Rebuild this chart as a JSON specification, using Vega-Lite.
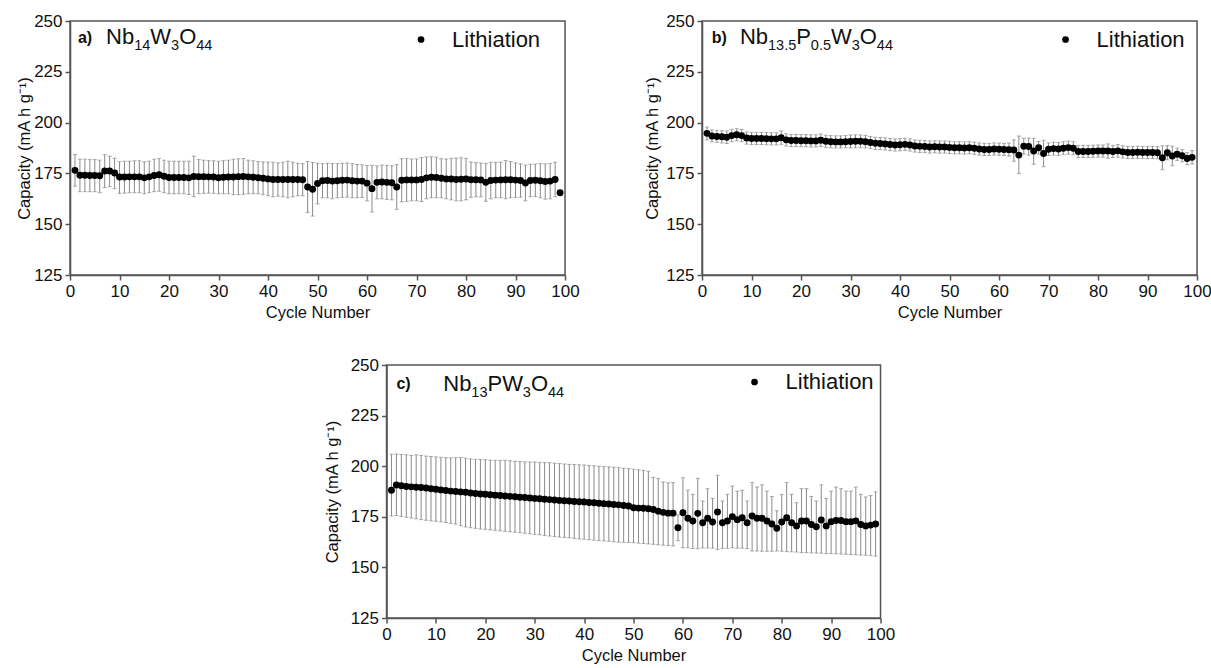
{
  "$schema": "https://vega.github.io/schema/vega-lite/v6.json",
  "background": "white",
  "padding": {"top": 11, "left": 15, "right": 0, "bottom": 0},
  "config": {
    "font": "Liberation Sans",
    "view": {"stroke": "#555555", "strokeWidth": 1.5},
    "axis": {"grid": false, "labelFont": "Liberation Sans", "labelFontSize": 17, "labelColor": "#111111", "titleFont": "Liberation Sans", "titleFontSize": 16.5, "titleFontWeight": "normal", "titleColor": "#111111", "domainColor": "#555555", "domainWidth": 1.5, "tickColor": "#555555", "tickWidth": 1.5, "labelPadding": 3, "labelFlush": false, "labelOverlap": false},
    "legend": {"labelFont": "Liberation Sans", "labelFontSize": 22, "labelColor": "#111111", "symbolType": "circle", "symbolSize": 45, "symbolStrokeWidth": 0, "labelOffset": 20, "padding": 0},
    "text": {"font": "Liberation Sans", "color": "#111111", "align": "left", "baseline": "alphabetic"}
  },
  "datasets": {
    "a": [
      {"cycle":1,"capacity":176.5,"low":168.7,"high":184.3},{"cycle":2,"capacity":174.1,"low":166,"high":182},{"cycle":3,"capacity":174.1,"low":166,"high":182},{"cycle":4,"capacity":174.0,"low":166,"high":181.8},{"cycle":5,"capacity":174.0,"low":166,"high":181.8},{"cycle":6,"capacity":173.8,"low":165.5,"high":181.5},{"cycle":7,"capacity":176.2,"low":168,"high":184.2},{"cycle":8,"capacity":176.2,"low":168.5,"high":183.5},{"cycle":9,"capacity":175.2,"low":167.5,"high":182.5},{"cycle":10,"capacity":173.2,"low":165.2,"high":180.8},
      {"cycle":11,"capacity":173.2,"low":165.3,"high":181},{"cycle":12,"capacity":173.3,"low":165.5,"high":181},{"cycle":13,"capacity":173.3,"low":165.5,"high":181.2},{"cycle":14,"capacity":173.3,"low":165.5,"high":181.2},{"cycle":15,"capacity":172.8,"low":165,"high":180.7},{"cycle":16,"capacity":173.3,"low":165.5,"high":181},{"cycle":17,"capacity":174.0,"low":166,"high":182},{"cycle":18,"capacity":174.3,"low":166.2,"high":182.3},{"cycle":19,"capacity":173.6,"low":165.5,"high":181.5},{"cycle":20,"capacity":173.0,"low":165,"high":181},
      {"cycle":21,"capacity":173.0,"low":165,"high":181},{"cycle":22,"capacity":173.0,"low":165,"high":181},{"cycle":23,"capacity":173.0,"low":165,"high":181},{"cycle":24,"capacity":172.8,"low":164.6,"high":181},{"cycle":25,"capacity":173.5,"low":163.5,"high":183.5},{"cycle":26,"capacity":173.4,"low":165,"high":181.8},{"cycle":27,"capacity":173.4,"low":165.2,"high":181.5},{"cycle":28,"capacity":173.3,"low":165.3,"high":181.3},{"cycle":29,"capacity":173.2,"low":165.2,"high":181.2},{"cycle":30,"capacity":172.9,"low":165,"high":181},
      {"cycle":31,"capacity":173.1,"low":165,"high":181.3},{"cycle":32,"capacity":173.2,"low":165,"high":181.5},{"cycle":33,"capacity":173.2,"low":164.5,"high":182},{"cycle":34,"capacity":173.4,"low":164.5,"high":182.2},{"cycle":35,"capacity":173.5,"low":164.7,"high":182.3},{"cycle":36,"capacity":173.3,"low":165,"high":181.5},{"cycle":37,"capacity":173.1,"low":165,"high":181.2},{"cycle":38,"capacity":172.9,"low":165,"high":180.8},{"cycle":39,"capacity":172.6,"low":164.5,"high":180.7},{"cycle":40,"capacity":172.3,"low":164,"high":180.6},
      {"cycle":41,"capacity":172.0,"low":163.5,"high":180.5},{"cycle":42,"capacity":172.0,"low":163.8,"high":180.2},{"cycle":43,"capacity":172.0,"low":163.5,"high":180.5},{"cycle":44,"capacity":172.0,"low":163,"high":181},{"cycle":45,"capacity":172.0,"low":163.5,"high":180.5},{"cycle":46,"capacity":172.0,"low":164,"high":180},{"cycle":47,"capacity":171.9,"low":164,"high":179.8},{"cycle":48,"capacity":168.3,"low":155.7,"high":180.8},{"cycle":49,"capacity":167.2,"low":154,"high":180.4},{"cycle":50,"capacity":170.0,"low":160,"high":180},
      {"cycle":51,"capacity":171.4,"low":163,"high":179.8},{"cycle":52,"capacity":171.5,"low":163,"high":180},{"cycle":53,"capacity":171.2,"low":162.5,"high":179.9},{"cycle":54,"capacity":171.4,"low":163,"high":179.8},{"cycle":55,"capacity":171.6,"low":163.2,"high":180},{"cycle":56,"capacity":171.7,"low":163.3,"high":180.1},{"cycle":57,"capacity":171.4,"low":163,"high":179.8},{"cycle":58,"capacity":171.2,"low":163,"high":179.4},{"cycle":59,"capacity":171.2,"low":163.2,"high":179.2},{"cycle":60,"capacity":170.2,"low":161.5,"high":178.9},
      {"cycle":61,"capacity":167.5,"low":156,"high":179},{"cycle":62,"capacity":170.6,"low":162.5,"high":178.7},{"cycle":63,"capacity":170.8,"low":162.5,"high":179.1},{"cycle":64,"capacity":170.6,"low":162.2,"high":179},{"cycle":65,"capacity":170.4,"low":162,"high":178.8},{"cycle":66,"capacity":168.3,"low":157.3,"high":179.3},{"cycle":67,"capacity":171.6,"low":161,"high":182.2},{"cycle":68,"capacity":171.8,"low":161.2,"high":182.4},{"cycle":69,"capacity":171.8,"low":161.5,"high":182.1},{"cycle":70,"capacity":171.8,"low":161.5,"high":182.1},
      {"cycle":71,"capacity":172.0,"low":161.2,"high":182.8},{"cycle":72,"capacity":172.8,"low":162.5,"high":183.1},{"cycle":73,"capacity":173.1,"low":163,"high":183.2},{"cycle":74,"capacity":173.0,"low":163,"high":183},{"cycle":75,"capacity":172.6,"low":163,"high":182.2},{"cycle":76,"capacity":172.3,"low":162.5,"high":182.1},{"cycle":77,"capacity":172.2,"low":162,"high":182.4},{"cycle":78,"capacity":172.0,"low":161.5,"high":182.5},{"cycle":79,"capacity":172.1,"low":161.5,"high":182.7},{"cycle":80,"capacity":172.2,"low":162,"high":182.4},
      {"cycle":81,"capacity":171.9,"low":163.2,"high":180.6},{"cycle":82,"capacity":171.9,"low":163.5,"high":180.3},{"cycle":83,"capacity":171.8,"low":163.5,"high":180.1},{"cycle":84,"capacity":170.6,"low":161.3,"high":179.9},{"cycle":85,"capacity":171.5,"low":162.5,"high":180.5},{"cycle":86,"capacity":171.7,"low":163,"high":180.4},{"cycle":87,"capacity":171.8,"low":163,"high":180.6},{"cycle":88,"capacity":171.9,"low":162.5,"high":181.3},{"cycle":89,"capacity":171.9,"low":163,"high":180.8},{"cycle":90,"capacity":171.7,"low":163.2,"high":180.2},
      {"cycle":91,"capacity":171.5,"low":163.3,"high":179.7},{"cycle":92,"capacity":170.3,"low":161.5,"high":179.1},{"cycle":93,"capacity":171.5,"low":163.5,"high":179.5},{"cycle":94,"capacity":171.6,"low":163.6,"high":179.6},{"cycle":95,"capacity":171.4,"low":163,"high":179.8},{"cycle":96,"capacity":171.0,"low":162.3,"high":179.7},{"cycle":97,"capacity":171.2,"low":162.5,"high":179.9},{"cycle":98,"capacity":172.0,"low":163.5,"high":180.5},{"cycle":99,"capacity":165.5,"low":164.8,"high":166.2}
    ],
    "b": [
      {"cycle":1,"capacity":194.7,"low":191.5,"high":197.8},{"cycle":2,"capacity":193.4,"low":190.5,"high":196.4},{"cycle":3,"capacity":193.2,"low":190.3,"high":196.2},{"cycle":4,"capacity":193.0,"low":190,"high":196},{"cycle":5,"capacity":192.8,"low":189.7,"high":195.9},{"cycle":6,"capacity":193.6,"low":190.6,"high":196.7},{"cycle":7,"capacity":194.0,"low":191,"high":197},{"cycle":8,"capacity":193.6,"low":190.6,"high":196.6},{"cycle":9,"capacity":192.4,"low":189.4,"high":195.4},{"cycle":10,"capacity":192.2,"low":189.2,"high":195.2},
      {"cycle":11,"capacity":192.2,"low":189.2,"high":195.2},{"cycle":12,"capacity":192.2,"low":189.2,"high":195.2},{"cycle":13,"capacity":192.1,"low":189.1,"high":195.1},{"cycle":14,"capacity":192.0,"low":189,"high":195},{"cycle":15,"capacity":192.0,"low":189,"high":195},{"cycle":16,"capacity":192.6,"low":189.3,"high":195.9},{"cycle":17,"capacity":191.5,"low":188.5,"high":194.5},{"cycle":18,"capacity":191.2,"low":188.2,"high":194.2},{"cycle":19,"capacity":191.2,"low":188.2,"high":194.2},{"cycle":20,"capacity":191.1,"low":188.1,"high":194.1},
      {"cycle":21,"capacity":191.1,"low":188.1,"high":194.1},{"cycle":22,"capacity":191.0,"low":188,"high":194},{"cycle":23,"capacity":191.0,"low":188,"high":194},{"cycle":24,"capacity":191.3,"low":188.2,"high":194.4},{"cycle":25,"capacity":190.8,"low":187.8,"high":193.8},{"cycle":26,"capacity":190.6,"low":187.6,"high":193.6},{"cycle":27,"capacity":190.5,"low":187.5,"high":193.5},{"cycle":28,"capacity":190.5,"low":187.5,"high":193.5},{"cycle":29,"capacity":190.6,"low":187.6,"high":193.6},{"cycle":30,"capacity":190.7,"low":187.5,"high":193.9},
      {"cycle":31,"capacity":190.8,"low":187.6,"high":194},{"cycle":32,"capacity":190.8,"low":187.7,"high":193.9},{"cycle":33,"capacity":190.6,"low":187.5,"high":193.7},{"cycle":34,"capacity":190.2,"low":187.2,"high":193.2},{"cycle":35,"capacity":189.8,"low":186.8,"high":192.8},{"cycle":36,"capacity":189.7,"low":186.7,"high":192.7},{"cycle":37,"capacity":189.5,"low":186.5,"high":192.5},{"cycle":38,"capacity":189.2,"low":186.2,"high":192.2},{"cycle":39,"capacity":189.0,"low":186,"high":192},{"cycle":40,"capacity":189.1,"low":186.1,"high":192.1},
      {"cycle":41,"capacity":189.3,"low":186.3,"high":192.3},{"cycle":42,"capacity":189.0,"low":186,"high":192},{"cycle":43,"capacity":188.5,"low":185.5,"high":191.5},{"cycle":44,"capacity":188.3,"low":185.3,"high":191.3},{"cycle":45,"capacity":188.2,"low":185.2,"high":191.2},{"cycle":46,"capacity":188.0,"low":185,"high":191},{"cycle":47,"capacity":188.1,"low":185.1,"high":191.1},{"cycle":48,"capacity":188.0,"low":185,"high":191},{"cycle":49,"capacity":188.0,"low":185,"high":191},{"cycle":50,"capacity":187.8,"low":184.8,"high":190.8},
      {"cycle":51,"capacity":187.6,"low":184.6,"high":190.6},{"cycle":52,"capacity":187.6,"low":184.6,"high":190.6},{"cycle":53,"capacity":187.5,"low":184.5,"high":190.5},{"cycle":54,"capacity":187.6,"low":184.6,"high":190.6},{"cycle":55,"capacity":187.4,"low":184.4,"high":190.4},{"cycle":56,"capacity":187.0,"low":184,"high":190},{"cycle":57,"capacity":186.8,"low":183.8,"high":189.8},{"cycle":58,"capacity":186.8,"low":183.8,"high":189.8},{"cycle":59,"capacity":187.0,"low":184,"high":190},{"cycle":60,"capacity":186.9,"low":183.9,"high":189.9},
      {"cycle":61,"capacity":186.8,"low":183.8,"high":189.8},{"cycle":62,"capacity":186.7,"low":183.5,"high":189.9},{"cycle":63,"capacity":186.5,"low":181,"high":191.5},{"cycle":64,"capacity":184.0,"low":174.9,"high":193.4},{"cycle":65,"capacity":188.4,"low":184.5,"high":192.3},{"cycle":66,"capacity":188.2,"low":184,"high":192.4},{"cycle":67,"capacity":186.0,"low":179.5,"high":192.3},{"cycle":68,"capacity":187.6,"low":184.5,"high":190.7},{"cycle":69,"capacity":184.8,"low":178.3,"high":191.3},{"cycle":70,"capacity":186.9,"low":183.8,"high":190},
      {"cycle":71,"capacity":187.2,"low":184,"high":190.4},{"cycle":72,"capacity":187.0,"low":183.8,"high":190.2},{"cycle":73,"capacity":187.4,"low":184.2,"high":190.6},{"cycle":74,"capacity":187.7,"low":184.5,"high":190.9},{"cycle":75,"capacity":187.4,"low":184.2,"high":190.6},{"cycle":76,"capacity":185.8,"low":182.8,"high":188.8},{"cycle":77,"capacity":185.8,"low":182.8,"high":188.8},{"cycle":78,"capacity":185.8,"low":182.8,"high":188.8},{"cycle":79,"capacity":185.9,"low":182.9,"high":188.9},{"cycle":80,"capacity":186.0,"low":183,"high":189},
      {"cycle":81,"capacity":186.0,"low":183,"high":189},{"cycle":82,"capacity":186.0,"low":182.5,"high":189.5},{"cycle":83,"capacity":185.8,"low":182.8,"high":188.8},{"cycle":84,"capacity":186.1,"low":183,"high":189.2},{"cycle":85,"capacity":185.6,"low":182.6,"high":188.6},{"cycle":86,"capacity":185.3,"low":182.3,"high":188.3},{"cycle":87,"capacity":185.3,"low":182.3,"high":188.3},{"cycle":88,"capacity":185.4,"low":182.4,"high":188.4},{"cycle":89,"capacity":185.3,"low":182.3,"high":188.3},{"cycle":90,"capacity":185.3,"low":182.3,"high":188.3},
      {"cycle":91,"capacity":185.3,"low":182.3,"high":188.3},{"cycle":92,"capacity":185.2,"low":182.2,"high":188.2},{"cycle":93,"capacity":182.7,"low":176.8,"high":188.6},{"cycle":94,"capacity":185.2,"low":181.7,"high":188.7},{"cycle":95,"capacity":183.6,"low":178.8,"high":188.4},{"cycle":96,"capacity":184.4,"low":181.4,"high":187.4},{"cycle":97,"capacity":183.7,"low":180.7,"high":186.7},{"cycle":98,"capacity":182.3,"low":179.3,"high":185.3},{"cycle":99,"capacity":182.9,"low":179.6,"high":186.2}
    ],
    "c": [
      {"cycle":1,"capacity":188.1,"low":175.4,"high":205.9},{"cycle":2,"capacity":190.7,"low":175.6,"high":206},{"cycle":3,"capacity":190.3,"low":175.2,"high":205.8},{"cycle":4,"capacity":190.0,"low":174.8,"high":205.6},{"cycle":5,"capacity":189.8,"low":174.4,"high":205.3},{"cycle":6,"capacity":189.6,"low":174,"high":205.6},{"cycle":7,"capacity":189.5,"low":173.6,"high":205.3},{"cycle":8,"capacity":189.2,"low":173.3,"high":205},{"cycle":9,"capacity":188.9,"low":173,"high":204.8},{"cycle":10,"capacity":188.6,"low":172.8,"high":204.6},
      {"cycle":11,"capacity":188.3,"low":172.5,"high":204.4},{"cycle":12,"capacity":188.0,"low":172.2,"high":204.2},{"cycle":13,"capacity":187.7,"low":171.8,"high":204.1},{"cycle":14,"capacity":187.5,"low":171.4,"high":204.2},{"cycle":15,"capacity":187.3,"low":170.6,"high":204.3},{"cycle":16,"capacity":187.1,"low":170,"high":203.9},{"cycle":17,"capacity":186.8,"low":169.6,"high":203.6},{"cycle":18,"capacity":186.5,"low":169.3,"high":203.4},{"cycle":19,"capacity":186.3,"low":169,"high":203.3},{"cycle":20,"capacity":186.1,"low":168.8,"high":203.2},
      {"cycle":21,"capacity":185.9,"low":168.5,"high":203},{"cycle":22,"capacity":185.7,"low":168.3,"high":202.9},{"cycle":23,"capacity":185.5,"low":168.1,"high":202.8},{"cycle":24,"capacity":185.3,"low":167.8,"high":202.9},{"cycle":25,"capacity":185.1,"low":167.6,"high":202.7},{"cycle":26,"capacity":184.9,"low":167.4,"high":202.4},{"cycle":27,"capacity":184.7,"low":167.2,"high":202.3},{"cycle":28,"capacity":184.5,"low":166.9,"high":202.1},{"cycle":29,"capacity":184.3,"low":166.6,"high":202},{"cycle":30,"capacity":184.1,"low":166.3,"high":202.1},
      {"cycle":31,"capacity":183.9,"low":166.1,"high":201.9},{"cycle":32,"capacity":183.7,"low":165.8,"high":201.8},{"cycle":33,"capacity":183.5,"low":165.5,"high":201.7},{"cycle":34,"capacity":183.3,"low":165.3,"high":201.5},{"cycle":35,"capacity":183.1,"low":165,"high":201.3},{"cycle":36,"capacity":182.9,"low":164.8,"high":201.1},{"cycle":37,"capacity":182.8,"low":164.6,"high":200.9},{"cycle":38,"capacity":182.6,"low":164.4,"high":200.8},{"cycle":39,"capacity":182.4,"low":164.1,"high":200.7},{"cycle":40,"capacity":182.3,"low":163.9,"high":200.6},
      {"cycle":41,"capacity":182.1,"low":163.7,"high":200.4},{"cycle":42,"capacity":181.9,"low":163.5,"high":200.2},{"cycle":43,"capacity":181.7,"low":163.3,"high":200},{"cycle":44,"capacity":181.5,"low":163.1,"high":199.8},{"cycle":45,"capacity":181.3,"low":162.9,"high":199.7},{"cycle":46,"capacity":181.1,"low":162.7,"high":199.5},{"cycle":47,"capacity":180.9,"low":162.5,"high":199.3},{"cycle":48,"capacity":180.6,"low":162.4,"high":199},{"cycle":49,"capacity":180.3,"low":162.3,"high":198.8},{"cycle":50,"capacity":179.5,"low":162.2,"high":198.5},
      {"cycle":51,"capacity":179.3,"low":162,"high":198.2},{"cycle":52,"capacity":179.2,"low":161.8,"high":197.9},{"cycle":53,"capacity":179.0,"low":161.6,"high":197.5},{"cycle":54,"capacity":178.6,"low":161.4,"high":194.5},{"cycle":55,"capacity":177.8,"low":161.2,"high":194},{"cycle":56,"capacity":177.2,"low":161,"high":192.2},{"cycle":57,"capacity":176.8,"low":160.8,"high":191.8},{"cycle":58,"capacity":176.8,"low":160.6,"high":191.9},{"cycle":59,"capacity":169.6,"low":163.2,"high":176},{"cycle":60,"capacity":177.0,"low":159.7,"high":194.3},
      {"cycle":61,"capacity":174.3,"low":159.7,"high":188.2},{"cycle":62,"capacity":172.9,"low":159.3,"high":186.1},{"cycle":63,"capacity":176.7,"low":159.2,"high":194},{"cycle":64,"capacity":172.1,"low":159.6,"high":182.8},{"cycle":65,"capacity":174.3,"low":159.6,"high":188.9},{"cycle":66,"capacity":172.4,"low":159.5,"high":184.1},{"cycle":67,"capacity":177.4,"low":158.9,"high":195.5},{"cycle":68,"capacity":172.1,"low":159.4,"high":182.8},{"cycle":69,"capacity":172.9,"low":159.4,"high":186.1},{"cycle":70,"capacity":175.1,"low":159.7,"high":190.2},
      {"cycle":71,"capacity":173.6,"low":159.5,"high":187.7},{"cycle":72,"capacity":174.5,"low":159.5,"high":188.1},{"cycle":73,"capacity":172.1,"low":159.3,"high":182.8},{"cycle":74,"capacity":175.4,"low":158.1,"high":191.9},{"cycle":75,"capacity":174.3,"low":158.1,"high":189.7},{"cycle":76,"capacity":174.3,"low":158,"high":190.8},{"cycle":77,"capacity":172.9,"low":158,"high":187.7},{"cycle":78,"capacity":171.4,"low":158,"high":185},{"cycle":79,"capacity":169.3,"low":158.1,"high":178},{"cycle":80,"capacity":172.4,"low":158,"high":186.1},
      {"cycle":81,"capacity":174.5,"low":157.8,"high":191.9},{"cycle":82,"capacity":172.1,"low":157.7,"high":186.1},{"cycle":83,"capacity":170.5,"low":157.6,"high":182},{"cycle":84,"capacity":172.9,"low":157.3,"high":188.9},{"cycle":85,"capacity":172.9,"low":157.3,"high":188.9},{"cycle":86,"capacity":171.2,"low":157.2,"high":185},{"cycle":87,"capacity":170.1,"low":157.1,"high":182.8},{"cycle":88,"capacity":173.4,"low":157,"high":190.8},{"cycle":89,"capacity":170.5,"low":156.8,"high":184.1},{"cycle":90,"capacity":172.6,"low":156.8,"high":187.7},
      {"cycle":91,"capacity":173.2,"low":156.7,"high":189.7},{"cycle":92,"capacity":173.2,"low":156.6,"high":188.9},{"cycle":93,"capacity":172.6,"low":156.5,"high":187.7},{"cycle":94,"capacity":172.6,"low":156.4,"high":187.7},{"cycle":95,"capacity":173.0,"low":156.3,"high":189.7},{"cycle":96,"capacity":171.2,"low":156.1,"high":186.1},{"cycle":97,"capacity":170.5,"low":156,"high":184.8},{"cycle":98,"capacity":170.9,"low":155.8,"high":185.5},{"cycle":99,"capacity":171.4,"low":155.6,"high":187.3}
    ]
  },
  "resolve": {"scale": {"color": "independent"}, "legend": {"color": "independent"}},
  "spacing": 33,
  "center": true,
  "vconcat": [
    {
      "spacing": 63,
      "resolve": {"scale": {"color": "independent"}, "legend": {"color": "independent"}},
      "hconcat": [
        {
          "width": 495, "height": 254,
          "data": {"name": "a"},
          "layer": [
            {"mark": {"type": "errorbar", "color": "#8a8a8a", "thickness": 1, "ticks": {"size": 4}},
             "encoding": {
               "x": {"field": "cycle", "type": "quantitative", "scale": {"domain": [0, 100], "nice": false}, "axis": {"title": "Cycle Number", "titlePadding": 5, "values": [0,5,10,15,20,25,30,35,40,45,50,55,60,65,70,75,80,85,90,95,100], "labelExpr": "datum.value % 10 === 0 ? datum.label : ''", "tickSize": {"condition": {"test": "datum.value % 10 === 0", "value": 5}, "value": 3}}},
               "y": {"field": "low", "type": "quantitative", "scale": {"domain": [125, 250], "nice": false}, "axis": {"title": "Capacity (mA h g⁻¹)", "titlePadding": 1, "values": [125,137.5,150,162.5,175,187.5,200,212.5,225,237.5,250], "labelExpr": "datum.value % 25 === 0 ? datum.label : ''", "tickSize": {"condition": {"test": "datum.value % 25 === 0", "value": 5}, "value": 3}}},
               "y2": {"field": "high"}
             }},
            {"mark": {"type": "point", "filled": true, "size": 48, "opacity": 1},
             "encoding": {
               "x": {"field": "cycle", "type": "quantitative", "scale": {"domain": [0, 100], "nice": false}, "title": "Cycle Number"},
               "y": {"field": "capacity", "type": "quantitative", "scale": {"domain": [125, 250], "nice": false}, "title": "Capacity (mA h g⁻¹)"},
               "color": {"datum": "Lithiation", "scale": {"range": ["#000000"]}, "legend": {"title": null, "orient": "none", "legendX": 340, "legendY": 7.5}}
             }},
            {"data": {"values": [{}]}, "mark": {"type": "text", "text": "a)", "fontWeight": "bold", "fontSize": 16}, "encoding": {"x": {"datum": 1.6}, "y": {"datum": 239}}},
            {"data": {"values": [{}]}, "mark": {"type": "text", "text": "Nb", "fontSize": 22}, "encoding": {"x": {"datum": 7.27}, "y": {"datum": 238.5}}},
            {"data": {"values": [{}]}, "mark": {"type": "text", "text": "14", "fontSize": 14.5}, "encoding": {"x": {"datum": 12.95}, "y": {"datum": 235.5}}},
            {"data": {"values": [{}]}, "mark": {"type": "text", "text": "W", "fontSize": 22}, "encoding": {"x": {"datum": 16.2}, "y": {"datum": 238.5}}},
            {"data": {"values": [{}]}, "mark": {"type": "text", "text": "3", "fontSize": 14.5}, "encoding": {"x": {"datum": 20.4}, "y": {"datum": 235.5}}},
            {"data": {"values": [{}]}, "mark": {"type": "text", "text": "O", "fontSize": 22}, "encoding": {"x": {"datum": 22.04}, "y": {"datum": 238.5}}},
            {"data": {"values": [{}]}, "mark": {"type": "text", "text": "44", "fontSize": 14.5}, "encoding": {"x": {"datum": 25.5}, "y": {"datum": 235.5}}}
          ]
        },
        {
          "width": 495, "height": 254,
          "data": {"name": "b"},
          "layer": [
            {"mark": {"type": "errorbar", "color": "#8a8a8a", "thickness": 1, "ticks": {"size": 4}},
             "encoding": {
               "x": {"field": "cycle", "type": "quantitative", "scale": {"domain": [0, 100], "nice": false}, "axis": {"title": "Cycle Number", "titlePadding": 5, "values": [0,5,10,15,20,25,30,35,40,45,50,55,60,65,70,75,80,85,90,95,100], "labelExpr": "datum.value % 10 === 0 ? datum.label : ''", "tickSize": {"condition": {"test": "datum.value % 10 === 0", "value": 5}, "value": 3}}},
               "y": {"field": "low", "type": "quantitative", "scale": {"domain": [125, 250], "nice": false}, "axis": {"title": "Capacity (mA h g⁻¹)", "titlePadding": 5, "values": [125,137.5,150,162.5,175,187.5,200,212.5,225,237.5,250], "labelExpr": "datum.value % 25 === 0 ? datum.label : ''", "tickSize": {"condition": {"test": "datum.value % 25 === 0", "value": 5}, "value": 3}}},
               "y2": {"field": "high"}
             }},
            {"mark": {"type": "point", "filled": true, "size": 48, "opacity": 1},
             "encoding": {
               "x": {"field": "cycle", "type": "quantitative", "scale": {"domain": [0, 100], "nice": false}, "title": "Cycle Number"},
               "y": {"field": "capacity", "type": "quantitative", "scale": {"domain": [125, 250], "nice": false}, "title": "Capacity (mA h g⁻¹)"},
               "color": {"datum": "Lithiation", "scale": {"range": ["#000000"]}, "legend": {"title": null, "orient": "none", "legendX": 352.5, "legendY": 7.5}}
             }},
            {"data": {"values": [{}]}, "mark": {"type": "text", "text": "b)", "fontWeight": "bold", "fontSize": 16}, "encoding": {"x": {"datum": 1.96}, "y": {"datum": 239}}},
            {"data": {"values": [{}]}, "mark": {"type": "text", "text": "Nb", "fontSize": 22}, "encoding": {"x": {"datum": 7.66}, "y": {"datum": 238.5}}},
            {"data": {"values": [{}]}, "mark": {"type": "text", "text": "13.5", "fontSize": 14.5}, "encoding": {"x": {"datum": 13.33}, "y": {"datum": 235.5}}},
            {"data": {"values": [{}]}, "mark": {"type": "text", "text": "P", "fontSize": 22}, "encoding": {"x": {"datum": 19.01}, "y": {"datum": 238.5}}},
            {"data": {"values": [{}]}, "mark": {"type": "text", "text": "0.5", "fontSize": 14.5}, "encoding": {"x": {"datum": 21.98}, "y": {"datum": 235.5}}},
            {"data": {"values": [{}]}, "mark": {"type": "text", "text": "W", "fontSize": 22}, "encoding": {"x": {"datum": 26.05}, "y": {"datum": 238.5}}},
            {"data": {"values": [{}]}, "mark": {"type": "text", "text": "3", "fontSize": 14.5}, "encoding": {"x": {"datum": 30.24}, "y": {"datum": 235.5}}},
            {"data": {"values": [{}]}, "mark": {"type": "text", "text": "O", "fontSize": 22}, "encoding": {"x": {"datum": 31.88}, "y": {"datum": 238.5}}},
            {"data": {"values": [{}]}, "mark": {"type": "text", "text": "44", "fontSize": 14.5}, "encoding": {"x": {"datum": 35.32}, "y": {"datum": 235.5}}}
          ]
        }
      ]
    },
    {
      "width": 494, "height": 253,
      "data": {"name": "c"},
      "layer": [
        {"mark": {"type": "errorbar", "color": "#8a8a8a", "thickness": 1, "ticks": {"size": 4}},
         "encoding": {
           "x": {"field": "cycle", "type": "quantitative", "scale": {"domain": [0, 100], "nice": false}, "axis": {"title": "Cycle Number", "titlePadding": 5, "values": [0,5,10,15,20,25,30,35,40,45,50,55,60,65,70,75,80,85,90,95,100], "labelExpr": "datum.value % 10 === 0 ? datum.label : ''", "tickSize": {"condition": {"test": "datum.value % 10 === 0", "value": 5}, "value": 3}}},
           "y": {"field": "low", "type": "quantitative", "scale": {"domain": [125, 250], "nice": false}, "axis": {"title": "Capacity (mA h g⁻¹)", "titlePadding": 10, "values": [125,137.5,150,162.5,175,187.5,200,212.5,225,237.5,250], "labelExpr": "datum.value % 25 === 0 ? datum.label : ''", "tickSize": {"condition": {"test": "datum.value % 25 === 0", "value": 5}, "value": 3}}},
           "y2": {"field": "high"}
         }},
        {"mark": {"type": "point", "filled": true, "size": 48, "opacity": 1},
         "encoding": {
           "x": {"field": "cycle", "type": "quantitative", "scale": {"domain": [0, 100], "nice": false}, "title": "Cycle Number"},
           "y": {"field": "capacity", "type": "quantitative", "scale": {"domain": [125, 250], "nice": false}, "title": "Capacity (mA h g⁻¹)"},
           "color": {"datum": "Lithiation", "scale": {"range": ["#000000"]}, "legend": {"title": null, "orient": "none", "legendX": 357, "legendY": 6}}
         }},
        {"data": {"values": [{}]}, "mark": {"type": "text", "text": "c)", "fontWeight": "bold", "fontSize": 16}, "encoding": {"x": {"datum": 2}, "y": {"datum": 238}}},
        {"data": {"values": [{}]}, "mark": {"type": "text", "text": "Nb", "fontSize": 22}, "encoding": {"x": {"datum": 11.48}, "y": {"datum": 237.15}}},
        {"data": {"values": [{}]}, "mark": {"type": "text", "text": "13", "fontSize": 14.5}, "encoding": {"x": {"datum": 17.17}, "y": {"datum": 234.4}}},
        {"data": {"values": [{}]}, "mark": {"type": "text", "text": "PW", "fontSize": 22}, "encoding": {"x": {"datum": 20.43}, "y": {"datum": 237.15}}},
        {"data": {"values": [{}]}, "mark": {"type": "text", "text": "3", "fontSize": 14.5}, "encoding": {"x": {"datum": 27.59}, "y": {"datum": 234.4}}},
        {"data": {"values": [{}]}, "mark": {"type": "text", "text": "O", "fontSize": 22}, "encoding": {"x": {"datum": 29.23}, "y": {"datum": 237.15}}},
        {"data": {"values": [{}]}, "mark": {"type": "text", "text": "44", "fontSize": 14.5}, "encoding": {"x": {"datum": 32.69}, "y": {"datum": 234.4}}}
      ]
    }
  ]
}
